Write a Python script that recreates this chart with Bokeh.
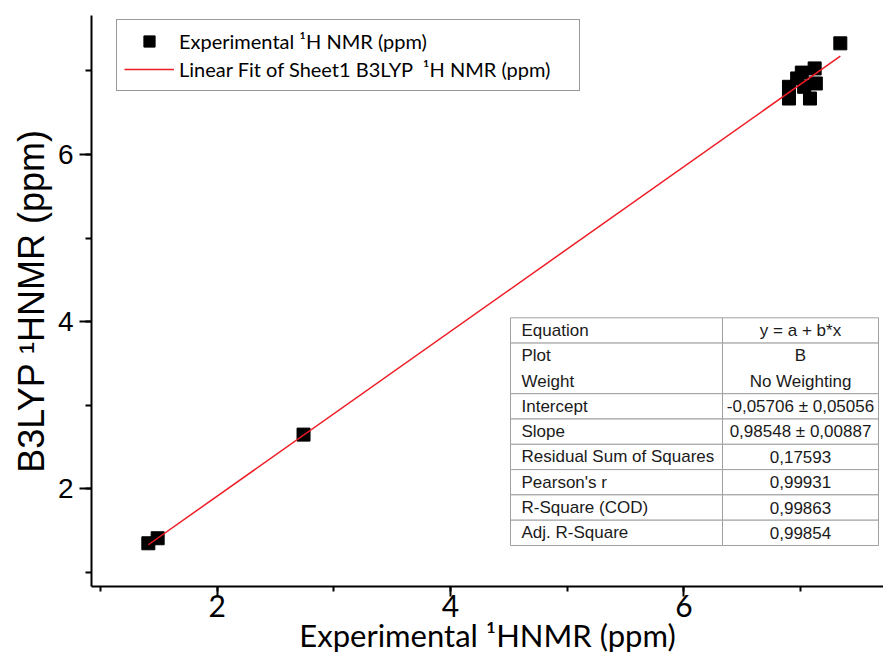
from bokeh.plotting import figure
from bokeh.models import (Legend, LegendItem, BoxAnnotation, Label, Range1d,
                          SingleIntervalTicker, ColumnDataSource)
from bokeh.embed import file_html
from bokeh.resources import INLINE

# ---------------- data ----------------
exp_ppm = [1.41, 1.49, 2.74, 6.90, 6.90, 6.97, 7.01, 7.03, 7.08, 7.12, 7.13, 7.34]
b3lyp_ppm = [1.35, 1.41, 2.65, 6.81, 6.67, 6.91, 6.98, 6.81, 6.67, 7.03, 6.85, 7.33]
fit_intercept = -0.05706
fit_slope = 0.98548

legend_labels = ["Experimental \u00b9H NMR (ppm)",
                 "Linear Fit of Sheet1 B3LYP  \u00b9H NMR (ppm)"]
x_title = "Experimental \u00b9HNMR (ppm)"
y_title = "B3LYP \u00b9HNMR (ppm)"

table_labels = ["Equation", "Plot", "Weight", "Intercept", "Slope",
                "Residual Sum of Squares", "Pearson's r", "R-Square (COD)",
                "Adj. R-Square"]
table_values = ["y = a + b*x", "B", "No Weighting", "-0,05706 \u00b1 0,05056",
                "0,98548 \u00b1 0,00887", "0,17593", "0,99931", "0,99863",
                "0,99854"]
table_groups = [[0], [1, 2], [3], [4], [5], [6], [7], [8]]

# ---------------- figure ----------------
W, H = 883, 664
FRAME_LEFT, FRAME_TOP, FRAME_BOTTOM = 91, 15, 586
p = figure(width=W, height=H, output_backend="svg", toolbar_location=None,
           x_range=Range1d(0.923, 7.710), y_range=Range1d(0.833, 7.663),
           min_border_left=FRAME_LEFT, min_border_right=0,
           min_border_top=FRAME_TOP, min_border_bottom=H - FRAME_BOTTOM,
           background_fill_color="white", border_fill_color="white")
p.outline_line_color = None
p.grid.visible = False

src = ColumnDataSource(dict(x=exp_ppm, y=b3lyp_ppm))
pts = p.scatter("x", "y", source=src, marker="square", size=13,
                fill_color="black", line_color="black")
x_fit = [min(exp_ppm), max(exp_ppm)]
y_fit = [fit_intercept + fit_slope * v for v in x_fit]
fit = p.line(x_fit, y_fit, line_color="#ee1c25", line_width=1.5)

# axes
xa = p.xaxis[0]
xa.ticker = SingleIntervalTicker(interval=2, num_minor_ticks=2)
xa.axis_label = x_title
xa.axis_label_text_font = "Lato"
xa.axis_label_text_font_size = "31px"
xa.axis_label_text_font_style = "normal"
xa.axis_label_text_color = "black"
xa.axis_label_standoff = -4
xa.major_label_text_font = "Lato"
xa.major_label_text_font_size = "30px"
xa.major_label_text_color = "black"
xa.major_label_standoff = -2
xa.axis_line_width = 2
xa.major_tick_line_width = 2
xa.minor_tick_line_width = 2
xa.major_tick_out = 10
xa.major_tick_in = 0
xa.minor_tick_out = 5
xa.minor_tick_in = 0

ya = p.yaxis[0]
ya.ticker = SingleIntervalTicker(interval=2, num_minor_ticks=2)
ya.axis_label = y_title
ya.axis_label_text_font = "Liberation Sans"
ya.axis_label_text_font_size = "36px"
ya.axis_label_text_font_style = "normal"
ya.axis_label_text_color = "black"
ya.axis_label_standoff = 3
ya.major_label_text_font = "Liberation Sans"
ya.major_label_text_font_size = "28px"
ya.major_label_text_color = "black"
ya.major_label_standoff = 6
ya.axis_line_width = 2
ya.major_tick_line_width = 2
ya.minor_tick_line_width = 2
ya.major_tick_out = 12
ya.major_tick_in = 0
ya.minor_tick_out = 6
ya.minor_tick_in = 0

# legend (location measured from the frame's bottom-left corner)
frame_h = FRAME_BOTTOM - FRAME_TOP
LEG_PAD, LEG_ROW = 7, 28
leg_h = 2 * LEG_PAD + 2 * LEG_ROW
leg_left, leg_top, leg_right = 116, 21, 578
legend = Legend(items=[LegendItem(label=legend_labels[0], renderers=[pts]),
                       LegendItem(label=legend_labels[1], renderers=[fit])],
                location=(leg_left - FRAME_LEFT, frame_h - (leg_top - FRAME_TOP) - leg_h),
                orientation="vertical",
                padding=LEG_PAD, spacing=0, margin=0,
                glyph_width=50, glyph_height=LEG_ROW, label_standoff=5,
                label_width=leg_right - LEG_PAD - (leg_left + LEG_PAD + 50 + 5),
                label_text_font="Lato", label_text_font_size="20px",
                label_text_color="black",
                border_line_color="#333333", border_line_width=1,
                background_fill_color="white", background_fill_alpha=1)
p.add_layout(legend)


# statistics table (screen units relative to the plot frame)
def sx(rx):
    return rx - FRAME_LEFT


def sy(ry):
    return FRAME_BOTTOM - ry


T_LEFT, T_DIV, T_RIGHT, T_TOP, ROW_H = 510, 722, 878, 317.3, 25.3
for grp in table_groups:
    top = T_TOP + grp[0] * ROW_H
    bot = T_TOP + (grp[-1] + 1) * ROW_H
    for (l, r) in [(T_LEFT, T_DIV), (T_DIV, T_RIGHT)]:
        p.add_layout(BoxAnnotation(left=sx(l), right=sx(r), top=sy(top), bottom=sy(bot),
                                   left_units="screen", right_units="screen",
                                   top_units="screen", bottom_units="screen",
                                   fill_color="white", fill_alpha=1,
                                   line_color="#a0a0a0", line_width=1, line_alpha=1))
for i, (lab, val) in enumerate(zip(table_labels, table_values)):
    cy = T_TOP + (i + 0.5) * ROW_H
    p.add_layout(Label(x=sx(T_LEFT + 11), y=sy(cy), x_units="screen", y_units="screen",
                       text=lab, text_font="Liberation Sans", text_font_size="17px",
                       text_align="left", text_baseline="middle", text_color="#1a1a1a"))
    p.add_layout(Label(x=sx((T_DIV + T_RIGHT) / 2), y=sy(cy), x_units="screen", y_units="screen",
                       text=val, text_font="Liberation Sans", text_font_size="17px",
                       text_align="center", text_baseline="middle", text_color="#1a1a1a"))

open("out.html", "w").write(file_html(p, INLINE))
